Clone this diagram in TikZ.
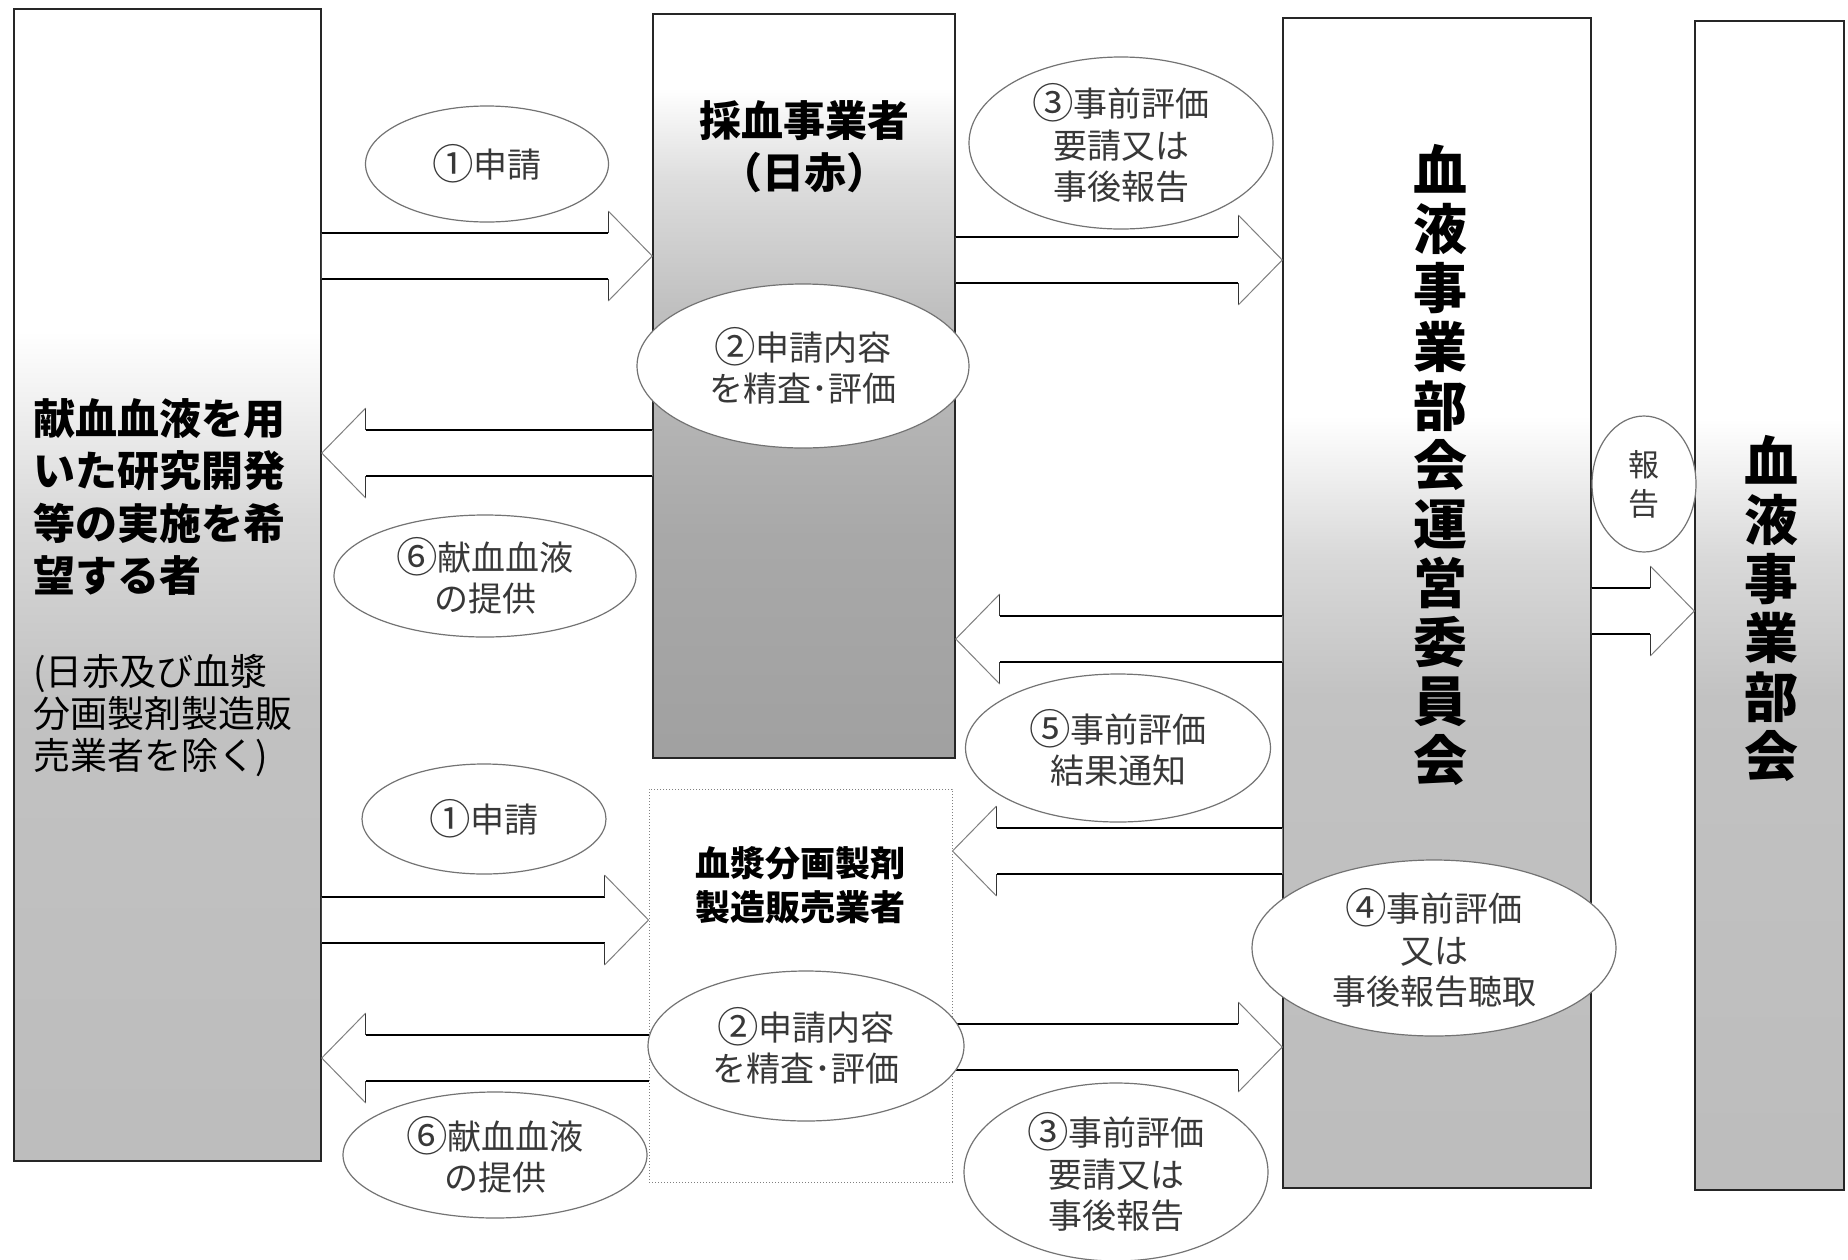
\documentclass[tikz,border=0pt]{standalone}
\usepackage{fontspec}
\usepackage{graphicx}
\setmainfont{Noto Sans CJK JP}
\usetikzlibrary{shapes.geometric,calc}
\definecolor{gA1}{gray}{0.74}
\definecolor{gA2}{gray}{0.76}
\definecolor{gA3}{gray}{0.85}
\definecolor{gB1}{gray}{0.63}
\definecolor{gB2}{gray}{0.66}
\definecolor{gB3}{gray}{0.75}
\definecolor{gB4}{gray}{0.87}
\pgfdeclareverticalshading{shA}{100bp}{color(0bp)=(gA1); color(25bp)=(gA1); color(45bp)=(gA2); color(53bp)=(gA3); color(61bp)=(white); color(100bp)=(white)}
\pgfdeclareverticalshading{shB}{100bp}{color(0bp)=(gB1); color(25bp)=(gB1); color(40bp)=(gB2); color(55bp)=(gB3); color(64bp)=(gB4); color(70bp)=(white); color(100bp)=(white)}
\pgfdeclareverticalshading{shD}{100bp}{color(0bp)=(gA1); color(25bp)=(gA1); color(46bp)=(gA2); color(52bp)=(gA3); color(58bp)=(white); color(100bp)=(white)}
\newcommand\cnum[1]{\raisebox{-0.06em}{\scalebox{1.22}{#1}}}
\tikzset{
  box/.style={draw=black!85, line width=1.5pt, inner sep=0pt},
  dotbox/.style={draw=black!50, line width=1pt, dotted, inner sep=0pt},
  ell/.style={ellipse, draw=black!55, line width=1.2pt, fill=white, inner sep=0pt,
    align=center, text=black!78, font=\fontsize{34}{41.5}\selectfont},
  shaft/.style={draw=black, line width=1.8pt},
  headv/.style={draw=black!80, line width=1.1pt},
  headd/.style={draw=black!50, line width=1pt},
  bigtxt/.style={inner sep=0pt, font=\bfseries\fontsize{42}{52.5}\selectfont},
}
% right-pointing block arrow: from node #1 (east side) to node #2 (west side), centre height #3
\newcommand\rblock[3]{%
  \pgfmathsetmacro\bya{#3-23}\pgfmathsetmacro\byb{#3+23}%
  \pgfmathsetmacro\byc{#3-45}\pgfmathsetmacro\byd{#3+45}%
  \coordinate (t1) at (#1.east |- 0,\bya);
  \coordinate (t2) at (#1.east |- 0,\byb);
  \coordinate (tip) at (#2.west |- 0,#3);
  \coordinate (h1) at ($(#2.west |- 0,\bya)+(-44,0)$);
  \coordinate (h2) at ($(#2.west |- 0,\byb)+(-44,0)$);
  \coordinate (h3) at ($(#2.west |- 0,\byc)+(-44,0)$);
  \coordinate (h4) at ($(#2.west |- 0,\byd)+(-44,0)$);
  \fill[white] (t1) -- (h1) -- (h3) -- (tip) -- (h4) -- (h2) -- (t2) -- cycle;
  \draw[shaft] (t1) -- (h1);
  \draw[shaft] (t2) -- (h2);
  \draw[headv] (h1) -- (h3);
  \draw[headv] (h2) -- (h4);
  \draw[headd] (h3) -- (tip) -- (h4);
}
% left-pointing block arrow: from node #1 (west side) to node #2 (east side)
\newcommand\lblock[3]{%
  \pgfmathsetmacro\bya{#3-23}\pgfmathsetmacro\byb{#3+23}%
  \pgfmathsetmacro\byc{#3-45}\pgfmathsetmacro\byd{#3+45}%
  \coordinate (t1) at (#1.west |- 0,\bya);
  \coordinate (t2) at (#1.west |- 0,\byb);
  \coordinate (tip) at (#2.east |- 0,#3);
  \coordinate (h1) at ($(#2.east |- 0,\bya)+(44,0)$);
  \coordinate (h2) at ($(#2.east |- 0,\byb)+(44,0)$);
  \coordinate (h3) at ($(#2.east |- 0,\byc)+(44,0)$);
  \coordinate (h4) at ($(#2.east |- 0,\byd)+(44,0)$);
  \fill[white] (t1) -- (h1) -- (h3) -- (tip) -- (h4) -- (h2) -- (t2) -- cycle;
  \draw[shaft] (t1) -- (h1);
  \draw[shaft] (t2) -- (h2);
  \draw[headv] (h1) -- (h3);
  \draw[headv] (h2) -- (h4);
  \draw[headd] (h3) -- (tip) -- (h4);
}
\begin{document}
\begin{tikzpicture}[x=1pt,y=-1pt]
\useasboundingbox[fill=white] (0,0) rectangle (1848,1259);

% boxes
\node[box, shade, shading=shA, minimum width=307pt, minimum height=1152pt] (A) at (167.5,585) {};
\node[box, shade, shading=shB, minimum width=302pt, minimum height=744pt] (B) at (804,386) {};
\node[dotbox, fill=white, minimum width=303pt, minimum height=393pt] (C) at (800.5,985.5) {};
\node[box, shade, shading=shD, minimum width=308pt, minimum height=1170pt] (D) at (1437,603) {};
\node[box, shade, shading=shD, minimum width=149pt, minimum height=1169pt] (E) at (1769.5,605.5) {};

% box texts
\node[bigtxt, anchor=west, align=left] (tA1) at (33,497) {献血血液を用\\いた研究開発\\等の実施を希\\望する者};
\node[inner sep=0pt, anchor=west, align=left, font=\fontsize{37}{42}\selectfont] (tA2) at (33,716) {(日赤及び血漿\\分画製剤製造販\\売業者を除く)};
\node[bigtxt, align=center] (tB) at (804,146.5) {採血事業者\\（日赤）};
\node[inner sep=0pt, align=center, font=\bfseries\fontsize{35}{44}\selectfont] (tC) at (800,885) {血漿分画製剤\\製造販売業者};
\node[inner sep=0pt, align=center, font=\bfseries\fontsize{54}{59}\selectfont] (tD) at (1440,465) {血\\液\\事\\業\\部\\会\\運\\営\\委\\員\\会};
\node[inner sep=0pt, align=center, font=\bfseries\fontsize{54}{59}\selectfont] (tE) at (1771,608.5) {血\\液\\事\\業\\部\\会};

% block arrows
\rblock{A}{B}{256}
\lblock{B}{A}{453}
\rblock{B}{D}{260}
\lblock{D}{B}{639}
\lblock{D}{C}{851}
\rblock{A}{C}{920}
\lblock{C}{A}{1058}
\rblock{C}{D}{1047}
\rblock{D}{E}{611}

% ellipse labels
\node[ell, minimum width=243pt, minimum height=116pt] (e1t) at (487,164) {\cnum{①}申請};
\node[ell, minimum width=332pt, minimum height=164pt] (e2t) at (803,366) {\cnum{②}申請内容\\を精査･評価};
\node[ell, minimum width=304pt, minimum height=172pt] (e3t) at (1121,143) {\cnum{③}事前評価\\要請又は\\事後報告};
\node[ell, minimum width=302pt, minimum height=122pt] (e6t) at (485,576) {\cnum{⑥}献血血液\\の提供};
\node[ell, minimum width=305pt, minimum height=148pt] (e5) at (1118,748) {\cnum{⑤}事前評価\\結果通知};
\node[ell, minimum width=244pt, minimum height=110pt] (e1b) at (484,819) {\cnum{①}申請};
\node[ell, minimum width=316pt, minimum height=150pt] (e2b) at (806,1046) {\cnum{②}申請内容\\を精査･評価};
\node[ell, minimum width=304pt, minimum height=126pt] (e6b) at (495,1155) {\cnum{⑥}献血血液\\の提供};
\node[ell, minimum width=304pt, minimum height=178pt] (e3b) at (1116,1172) {\cnum{③}事前評価\\要請又は\\事後報告};
\node[ell, minimum width=364pt, minimum height=176pt] (e4) at (1434,948) {\cnum{④}事前評価\\又は\\事後報告聴取};
\node[ell, minimum width=104pt, minimum height=136pt, font=\fontsize{31}{39}\selectfont] (e7) at (1644,484) {報\\告};
\end{tikzpicture}
\end{document}
